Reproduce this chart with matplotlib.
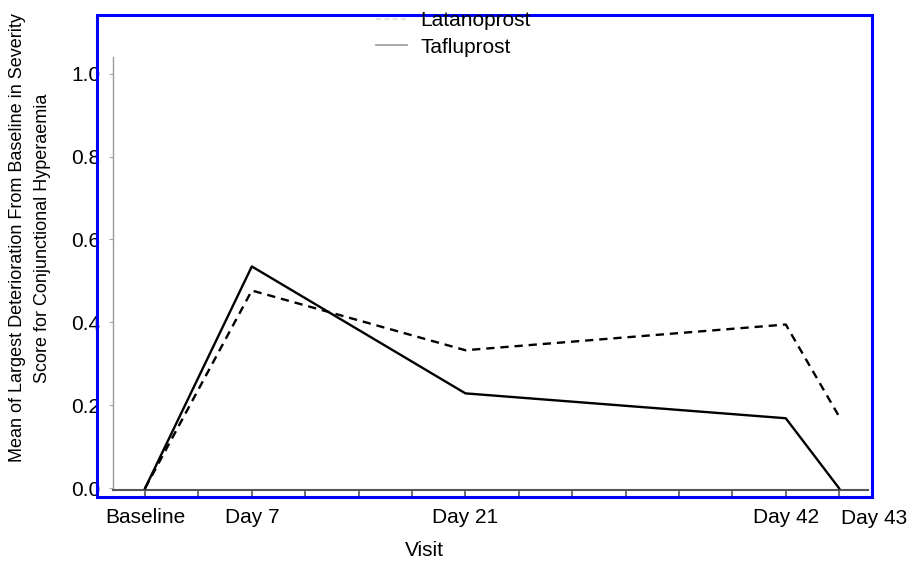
import matplotlib
matplotlib.use("Agg")
import matplotlib.pyplot as plt
from matplotlib.lines import Line2D
from matplotlib.patches import Rectangle

plt.rcParams['font.family'] = ['Liberation Sans', 'DejaVu Sans']

visits = ["Baseline", "Day 7", "Day 21", "Day 42", "Day 43"]
visit_pos = [0, 2, 6, 12, 13]
latanoprost = [0.0, 0.477, 0.333, 0.395, 0.173]
tafluprost = [0.0, 0.535, 0.229, 0.169, 0.0]

W, H = 909, 561
fig = plt.figure(figsize=(W / 100, H / 100), dpi=100)

def fx(px):
    return px / W

def fy(py):
    return 1 - py / H

ax = fig.add_axes([fx(113), fy(490), fx(868) - fx(113), fy(57) - fy(490)])
ax.plot(visit_pos, latanoprost, color='black', lw=1.7, ls=(0, (3.5, 2.5)), zorder=3)
ax.plot(visit_pos, tafluprost, color='black', lw=1.7, ls='-', zorder=3)

ax.set_xlim(-0.6, 13.54)
ax.set_ylim(-0.004, 1.04)

ax.set_xticks(range(0, 14))
labels = []
for i in range(14):
    if i in visit_pos and i != visit_pos[-1]:
        labels.append(visits[visit_pos.index(i)])
    else:
        labels.append("")
ax.set_xticklabels(labels, fontsize=15)
# last visit label sits shifted to the right of its tick, as in the reference
ax.annotate(visits[-1], xy=(visit_pos[-1], 0), xycoords=('data', 'axes fraction'),
            xytext=(35, -28), textcoords='offset pixels', ha='center', va='center',
            fontsize=15, annotation_clip=False)

ax.set_yticks([0.0, 0.2, 0.4, 0.6, 0.8, 1.0])
ax.set_yticklabels(["0.0", "0.2", "0.4", "0.6", "0.8", "1.0"], fontsize=15)

for s in ['top', 'right']:
    ax.spines[s].set_visible(False)
ax.spines['left'].set_color('#999999')
ax.spines['left'].set_linewidth(1.0)
ax.spines['bottom'].set_color('#555555')
ax.spines['bottom'].set_linewidth(1.5)
ax.tick_params(axis='x', direction='out', length=5, width=1.2, color='#555555', pad=8)
ax.tick_params(axis='y', direction='out', length=3, width=0.8, color='#aaaaaa', pad=6)

fig.text(fx(424), fy(550), "Visit", ha='center', va='center', fontsize=15)
fig.text(fx(30), fy(238), "Mean of Largest Deterioration From Baseline in Severity\nScore for Conjunctional Hyperaemia",
         ha='center', va='center', rotation=90, fontsize=13, linespacing=1.55)

# blue frame
fig.patches.append(Rectangle((fx(97), fy(497)), fx(872) - fx(97), fy(15) - fy(497),
                             transform=fig.transFigure, fill=False, edgecolor='#0000ff',
                             linewidth=2.2, zorder=5))

handles = [Line2D([0], [0], color='#dddddd', lw=1.2, ls=(0, (3, 2))),
           Line2D([0], [0], color='#999999', lw=1.2, ls='-')]
leg = fig.legend(handles, ["Latanoprost", "Tafluprost"], loc='upper left',
                 bbox_to_anchor=(fx(366), fy(1)), frameon=False, fontsize=15,
                 handlelength=1.45, handletextpad=0.65, labelspacing=0.35, borderpad=0)
leg.set_zorder(10)

fig.savefig("out.png", dpi=100)
